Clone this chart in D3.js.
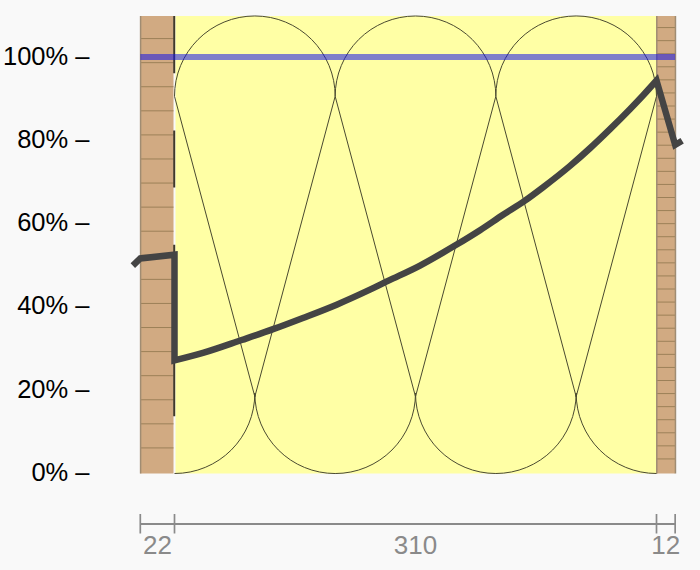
<!DOCTYPE html>
<html><head><meta charset="utf-8">
<script src="https://cdnjs.cloudflare.com/ajax/libs/d3/7.8.5/d3.min.js"></script>
<style>html,body{margin:0;padding:0;background:#f9f9f9}svg{display:block}text{font-family:"Liberation Sans",sans-serif}</style>
</head><body><svg id="c" width="700" height="570"></svg>
<script>
// layer boundaries in mm
const layerEdges = [-22, 0, 310, 322];
const layerLabels = ["22", "310", "12"];
const percentTicks = [0, 20, 40, 60, 80, 100];
const brickCoursesLeft = 19, brickCoursesRight = 35;
const insulationLoops = 3;
const dewLevel = [100];
// curve: position in mm and value in %
const headMm  = [-26.8,-22,0,0];
const headPct = [50,51.7,52.6,27.2];
const midMm   = [0,18.3,43.2,63.4,82.6,104.3,125.7,137.3,157.9,180.4,196.5,211.3,225.4,237,254.2,267.2,280.1,292.9,301.3,310];
const midPct  = [27.2,29,32.1,34.7,37.4,40.6,44.2,46.3,50,54.8,58.5,62.2,65.6,68.8,73.9,78.2,82.8,87.6,90.9,94.5];
const tailMm  = [322,326.5];
const tailPct = [79,80];

const svg = d3.select("#c");
const x = d3.scaleLinear().domain([0,310]).range([174.5,656.5]);
const y = d3.scaleLinear().domain([0,110]).range([473.5,16]);
const yTop = y(110), yBot = y(0);

// yellow insulation
svg.append("rect").attr("x",x(0)+1).attr("y",yTop).attr("width",x(310)-x(0)-1).attr("height",yBot-yTop).attr("fill","#ffffa5");

// brick walls
function wall(a,b,n,edges,inset){
  svg.append("rect").attr("x",x(a)).attr("y",yTop).attr("width",x(b)-x(a)-inset).attr("height",yBot-yTop).attr("fill","#d1aa82");
  svg.append("g").selectAll("line").data(d3.range(1,n)).join("line")
    .attr("x1",x(a)).attr("x2",x(b)-inset)
    .attr("y1",i=>yTop+(yBot-yTop)*i/n-1.5).attr("y2",i=>yTop+(yBot-yTop)*i/n-1.5)
    .attr("stroke","#9c8058").attr("stroke-width",1);
  svg.append("g").selectAll("line").data(edges).join("line")
    .attr("x1",d=>x(d)+.3).attr("x2",d=>x(d)+.3).attr("y1",yTop).attr("y2",yBot)
    .attr("stroke","#a08c72").attr("stroke-width",1.5);
}
wall(-22,0,brickCoursesLeft,[-22],1);
wall(310,322,brickCoursesRight,[310,322],0);

// insulation loops
const w = (x(310)-x(0))/insulationLoops, r = w/2;
const p = d3.path();
const topC = yTop+r, botC = yBot-r+3.5;
p.moveTo(x(0),yBot);
p.arc(x(0),yBot-r,r,Math.PI/2,0,true);
for(let i=0;i<insulationLoops;i++){
  const lx = x(0)+w*i;
  p.moveTo(lx+r,botC);
  p.lineTo(lx,topC);
  p.arc(lx+r,topC,r,Math.PI,0,false);
  p.lineTo(lx+r,botC);
  if(i<insulationLoops-1){
    p.moveTo(lx+r,botC);
    p.arc(lx+w,yBot-r,r,Math.PI,0,true);
  }
}
p.moveTo(x(0)+w*(insulationLoops-.5),botC);
p.arc(x(310),yBot-r,r,Math.PI,Math.PI/2,true);
svg.append("path").attr("d",p.toString()).attr("fill","none").attr("stroke","#4a4a30").attr("stroke-width",1);

// vapour layer
svg.append("line").attr("x1",x(0)-.3).attr("x2",x(0)-.3).attr("y1",yTop).attr("y2",yBot)
  .attr("stroke","#40392a").attr("stroke-width",2).attr("stroke-dasharray",(yBot-yTop)/8);

// 100% line
svg.append("g").selectAll("line").data(dewLevel).join("line")
  .attr("x1",x(-22)).attr("x2",x(322)).attr("y1",d=>y(d)-.5).attr("y2",d=>y(d)-.5)
  .attr("stroke","#1212e8").attr("stroke-opacity",.54).attr("stroke-width",6);

// curve: sharp ends joined to a smooth middle, as one path
const pair = (a,b)=>a.map((m,i)=>[m,b[i]]);
const lin = d3.line().x(d=>x(d[0])).y(d=>y(d[1]));
const smooth = d3.line().x(d=>x(d[0])).y(d=>y(d[1])).curve(d3.curveMonotoneX);
const stripM = s=>s.replace(/^M[^LC]*/,"");
const curveD = lin(pair(headMm,headPct))
  + stripM(smooth(pair(midMm,midPct)))
  + stripM(lin([pair(midMm,midPct).at(-1),...pair(tailMm,tailPct)]));
svg.append("path").attr("d",curveD)
  .attr("fill","none").attr("stroke","#444").attr("stroke-width",6.5).attr("stroke-linejoin","miter");

// y axis
const ay = svg.append("g").attr("transform","translate(89.5,0)")
  .call(d3.axisLeft(y).tickValues(percentTicks).tickSize(0).tickPadding(0).tickFormat(d=>d+"% –"));
ay.select(".domain").remove();
ay.selectAll("text").attr("font-size",25.5).attr("fill","#000").attr("dy","6.8px").style("font-family",'"Liberation Sans",sans-serif');

// dimension axis
const ax = svg.append("g");
ax.append("line").attr("x1",x(-22)).attr("x2",x(322)).attr("y1",524).attr("y2",524).attr("stroke","#8a8a8a").attr("stroke-width",2);
ax.selectAll("line.t").data(layerEdges).join("line").attr("class","t")
  .attr("x1",d=>x(d)).attr("x2",d=>x(d)).attr("y1",514).attr("y2",533.5).attr("stroke","#8a8a8a").attr("stroke-width",1.7);
ax.selectAll("text").data(layerLabels).join("text")
  .attr("x",(d,i)=>(x(layerEdges[i])+x(layerEdges[i+1]))/2).attr("y",553.5)
  .attr("text-anchor","middle").attr("font-size",26).attr("fill","#8a8a8a").text(d=>d);
</script></body></html>
